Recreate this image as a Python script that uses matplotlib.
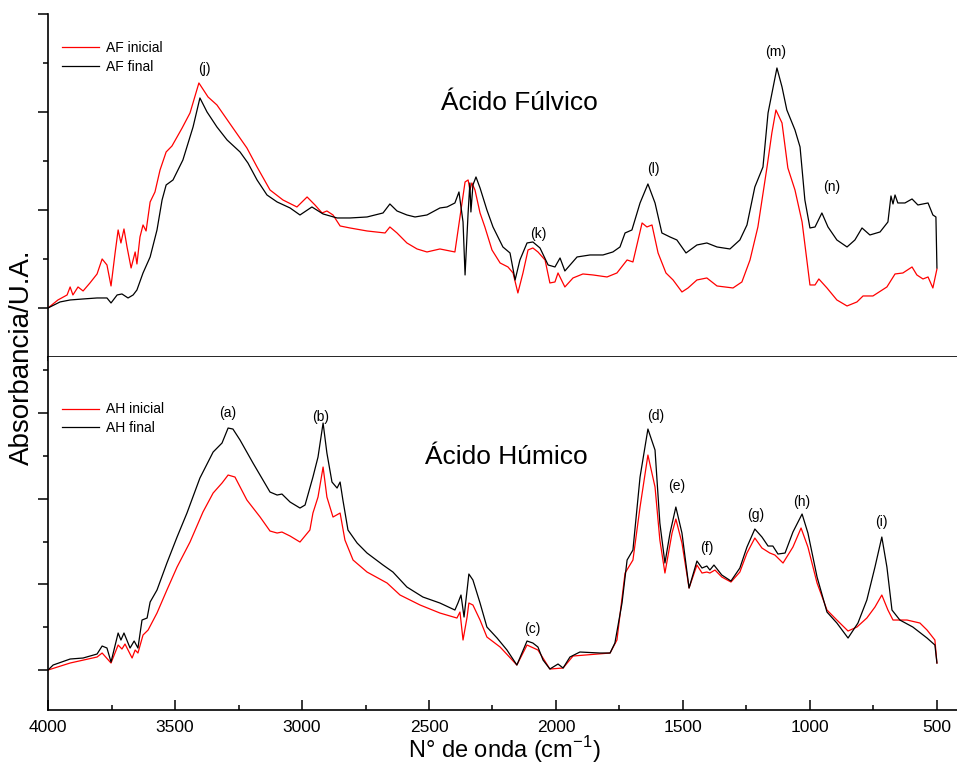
import matplotlib
matplotlib.use("Agg")
import matplotlib.pyplot as plt
from matplotlib.ticker import FixedLocator, MultipleLocator

plt.rcParams['font.family'] = ['Liberation Sans', 'DejaVu Sans']
plt.rcParams['mathtext.fontset'] = 'custom'
plt.rcParams['mathtext.rm'] = 'Liberation Sans'

# Ácido Fúlvico (top panel)
af_ini_wn = [4000, 3961, 3925, 3913, 3902, 3882, 3862, 3835, 3807, 3787, 3768, 3752, 3736, 3724,
             3713, 3701, 3689, 3673, 3657, 3650, 3638, 3626, 3614, 3598, 3579, 3559, 3535, 3512,
             3472, 3441, 3406, 3370, 3335, 3272, 3217, 3177, 3126, 3075, 3020, 2980, 2949, 2921,
             2902, 2878, 2850, 2811, 2744, 2673, 2654, 2626, 2587, 2547, 2508, 2457, 2398, 2378,
             2358, 2346, 2339, 2331, 2319, 2299, 2280, 2252, 2220, 2189, 2169, 2150, 2130, 2110,
             2091, 2071, 2043, 2024, 2004, 1992, 1965, 1933, 1894, 1854, 1799, 1760, 1720, 1697,
             1661, 1642, 1622, 1598, 1567, 1539, 1504, 1480, 1445, 1406, 1366, 1303, 1268, 1236,
             1205, 1169, 1150, 1134, 1110, 1087, 1059, 1031, 1000, 980, 965, 933, 894, 854, 815,
             791, 752, 697, 665, 634, 598, 579, 555, 535, 516, 500]
af_ini = [0.00, 0.08, 0.13, 0.21, 0.13, 0.21, 0.17, 0.25, 0.34, 0.49, 0.43, 0.22, 0.55, 0.78,
          0.65, 0.79, 0.61, 0.40, 0.56, 0.44, 0.71, 0.83, 0.77, 1.06, 1.16, 1.38, 1.56, 1.62,
          1.80, 1.95, 2.25, 2.11, 2.03, 1.80, 1.60, 1.41, 1.18, 1.08, 1.01, 1.11, 1.03, 0.95,
          0.97, 0.93, 0.82, 0.80, 0.77, 0.75, 0.81, 0.75, 0.65, 0.59, 0.56, 0.59, 0.56, 0.91,
          1.26, 1.28, 1.18, 1.25, 1.18, 0.95, 0.81, 0.58, 0.45, 0.41, 0.35, 0.15, 0.35, 0.58,
          0.60, 0.56, 0.48, 0.25, 0.26, 0.35, 0.21, 0.30, 0.34, 0.33, 0.31, 0.35, 0.48, 0.46,
          0.85, 0.81, 0.83, 0.55, 0.35, 0.28, 0.16, 0.20, 0.28, 0.30, 0.22, 0.20, 0.26, 0.48,
          0.81, 1.41, 1.75, 1.98, 1.85, 1.40, 1.18, 0.86, 0.23, 0.23, 0.29, 0.20, 0.08, 0.02, 0.06,
          0.12, 0.12, 0.21, 0.34, 0.35, 0.41, 0.33, 0.29, 0.31, 0.20, 0.39]

af_fin_wn = [4000, 3953, 3913, 3862, 3807, 3768, 3752, 3728, 3709, 3685, 3665, 3650, 3626, 3598,
             3571, 3551, 3535, 3508, 3469, 3429, 3402, 3374, 3335, 3295, 3244, 3213, 3177, 3138,
             3098, 3047, 3008, 2961, 2917, 2862, 2811, 2744, 2681, 2654, 2626, 2587, 2555, 2508,
             2457, 2429, 2398, 2382, 2366, 2358, 2346, 2339, 2335, 2327, 2315, 2299, 2272, 2248,
             2209, 2181, 2161, 2142, 2114, 2091, 2063, 2031, 2004, 1984, 1965, 1917, 1866, 1815,
             1776, 1748, 1728, 1701, 1669, 1638, 1610, 1583, 1551, 1524, 1488, 1445, 1406, 1366,
             1315, 1276, 1248, 1217, 1185, 1165, 1130, 1110, 1091, 1059, 1039, 1020, 1000, 980,
             953, 929, 894, 854, 823, 795, 764, 724, 693, 681, 673, 665, 654, 626, 598, 575, 535,
             516, 504, 500]
af_fin = [0.00, 0.06, 0.08, 0.09, 0.10, 0.10, 0.05, 0.13, 0.14, 0.10, 0.13, 0.18, 0.35, 0.51,
          0.78, 1.08, 1.23, 1.28, 1.48, 1.81, 2.10, 1.96, 1.81, 1.68, 1.56, 1.45, 1.28, 1.13,
          1.06, 1.00, 0.93, 1.01, 0.94, 0.90, 0.90, 0.91, 0.95, 1.04, 0.97, 0.93, 0.91, 0.93,
          1.00, 1.01, 1.05, 1.16, 0.86, 0.33, 0.95, 1.25, 0.96, 1.23, 1.31, 1.20, 0.98, 0.81,
          0.61, 0.55, 0.28, 0.48, 0.65, 0.66, 0.60, 0.43, 0.41, 0.50, 0.37, 0.51, 0.53, 0.53,
          0.56, 0.61, 0.75, 0.78, 1.05, 1.24, 1.05, 0.75, 0.71, 0.68, 0.55, 0.63, 0.65, 0.61,
          0.59, 0.68, 0.83, 1.21, 1.41, 1.95, 2.40, 2.21, 1.98, 1.78, 1.61, 1.08, 0.80, 0.81,
          0.95, 0.81, 0.68, 0.61, 0.68, 0.80, 0.73, 0.76, 0.86, 1.12, 1.04, 1.13, 1.05, 1.05, 1.09, 1.03, 1.05,
          0.93, 0.91, 0.40]

# Ácido Húmico (bottom panel)
ah_ini_wn = [4000, 3913, 3807, 3787, 3752, 3724, 3709, 3697, 3669, 3657, 3646, 3626, 3606, 3571,
             3532, 3492, 3441, 3390, 3350, 3315, 3291, 3264, 3217, 3165, 3126, 3098, 3079, 3047,
             3008, 2969, 2957, 2937, 2917, 2902, 2878, 2850, 2831, 2799, 2744, 2665, 2614, 2535,
             2457, 2390, 2378, 2366, 2350, 2343, 2327, 2299, 2272, 2220, 2154, 2114, 2071, 2024,
             1972, 1933, 1787, 1760, 1728, 1697, 1669, 1638, 1610, 1591, 1571, 1543, 1528, 1504,
             1476, 1445, 1425, 1406, 1394, 1374, 1347, 1311, 1276, 1248, 1217, 1189, 1158, 1138,
             1106, 1067, 1035, 1008, 972, 933, 894, 850, 815, 776, 744, 717, 693, 673, 618, 567,
             539, 508, 500]
ah_ini = [0.00, 0.07, 0.13, 0.17, 0.07, 0.25, 0.21, 0.26, 0.12, 0.20, 0.17, 0.35, 0.40, 0.57,
          0.80, 1.03, 1.28, 1.58, 1.77, 1.87, 1.95, 1.93, 1.70, 1.53, 1.39, 1.37, 1.38, 1.34,
          1.28, 1.40, 1.57, 1.73, 2.03, 1.73, 1.53, 1.57, 1.30, 1.10, 0.98, 0.87, 0.75, 0.65,
          0.57, 0.52, 0.58, 0.30, 0.53, 0.67, 0.65, 0.50, 0.33, 0.23, 0.05, 0.25, 0.20, 0.01,
          0.02, 0.14, 0.17, 0.30, 0.97, 1.10, 1.63, 2.15, 1.83, 1.30, 0.97, 1.37, 1.51, 1.27,
          0.82, 1.05, 0.97, 0.98, 0.97, 1.00, 0.93, 0.88, 0.98, 1.17, 1.32, 1.22, 1.17, 1.15,
          1.07, 1.23, 1.42, 1.23, 0.87, 0.60, 0.50, 0.39, 0.43, 0.52, 0.63, 0.75, 0.60, 0.50, 0.50, 0.47,
          0.40, 0.30, 0.07]

ah_fin_wn = [4000, 3980, 3913, 3862, 3807, 3787, 3768, 3752, 3724, 3713, 3701, 3677, 3661, 3646,
             3630, 3610, 3598, 3571, 3532, 3492, 3453, 3402, 3350, 3315, 3291, 3272, 3244, 3193,
             3126, 3098, 3079, 3047, 3008, 2988, 2957, 2937, 2917, 2902, 2882, 2862, 2850, 2839,
             2819, 2783, 2744, 2681, 2642, 2587, 2524, 2457, 2398, 2386, 2374, 2362, 2350, 2343,
             2327, 2299, 2272, 2232, 2193, 2154, 2134, 2114, 2091, 2071, 2051, 2024, 1992, 1972,
             1945, 1906, 1827, 1787, 1768, 1740, 1720, 1697, 1669, 1638, 1610, 1591, 1571, 1551,
             1528, 1504, 1476, 1445, 1425, 1406, 1394, 1378, 1347, 1311, 1276, 1248, 1217, 1189,
             1165, 1146, 1126, 1098, 1067, 1031, 1008, 972, 933, 894, 850, 811, 776, 744, 717, 697,
             677, 646, 595, 539, 508, 500]
ah_fin = [0.00, 0.05, 0.11, 0.12, 0.16, 0.24, 0.22, 0.08, 0.37, 0.30, 0.37, 0.22, 0.29, 0.22,
          0.50, 0.52, 0.68, 0.80, 1.07, 1.33, 1.57, 1.92, 2.18, 2.27, 2.42, 2.41, 2.30, 2.07,
          1.78, 1.75, 1.76, 1.68, 1.62, 1.65, 1.93, 2.13, 2.47, 2.17, 1.88, 1.82, 1.88, 1.70,
          1.40, 1.27, 1.17, 1.05, 0.98, 0.83, 0.73, 0.67, 0.60, 0.67, 0.75, 0.53, 0.80, 0.96,
          0.90, 0.67, 0.43, 0.32, 0.20, 0.05, 0.17, 0.29, 0.27, 0.23, 0.10, 0.01, 0.06, 0.02,
          0.13, 0.18, 0.17, 0.17, 0.27, 0.67, 1.10, 1.20, 1.93, 2.41, 2.20, 1.47, 1.07, 1.37,
          1.63, 1.37, 0.82, 1.09, 1.02, 1.04, 1.00, 1.05, 0.95, 0.89, 1.02, 1.23, 1.41, 1.33,
          1.24, 1.24, 1.16, 1.17, 1.38, 1.56, 1.37, 0.93, 0.58, 0.47, 0.32, 0.47, 0.70, 1.03, 1.33, 1.03,
          0.60, 0.50, 0.43, 0.32, 0.25, 0.07]

# band labels: (text, wavenumber, height)
af_bands = [("(j)", 3386, 2.39), ("(k)", 2071, 0.74), ("(l)", 1618, 1.39),
            ("(m)", 1134, 2.56), ("(n)", 913, 1.21)]
ah_bands = [("(a)", 3291, 2.57), ("(b)", 2925, 2.53), ("(c)", 2095, 0.41),
            ("(d)", 1606, 2.54), ("(e)", 1524, 1.84), ("(f)", 1406, 1.22),
            ("(g)", 1213, 1.55), ("(h)", 1031, 1.68), ("(i)", 720, 1.48)]

fig = plt.figure(figsize=(9.57, 7.68), dpi=100)
ax1 = fig.add_axes([0.0502, 0.5352, 0.9498, 0.4466])
ax2 = fig.add_axes([0.0502, 0.0755, 0.9498, 0.4596])

ax1.plot(af_ini_wn, af_ini, color='#ff0000', lw=0.9, label='AF inicial')
ax1.plot(af_fin_wn, af_fin, color='black', lw=0.9, label='AF final')
ax2.plot(ah_ini_wn, ah_ini, color='#ff0000', lw=0.9, label='AH inicial')
ax2.plot(ah_fin_wn, ah_fin, color='black', lw=0.9, label='AH final')

ax1.set_ylim(-0.49, 2.94)
ax2.set_ylim(-0.40, 3.13)
ax1.yaxis.set_major_locator(FixedLocator([0, 0.98, 1.96, 2.935]))
ax1.yaxis.set_minor_locator(FixedLocator([0.49, 1.47, 2.45]))
ax2.yaxis.set_major_locator(FixedLocator([0, 0.86, 1.71, 2.57]))
ax2.yaxis.set_minor_locator(FixedLocator([0.43, 1.28, 2.14, 3.00]))

for ax in (ax1, ax2):
    ax.set_xlim(4000, 421)
    ax.xaxis.set_major_locator(MultipleLocator(500))
    ax.xaxis.set_minor_locator(MultipleLocator(250))
    ax.spines['top'].set_visible(False)
    ax.spines['right'].set_visible(False)
    ax.spines['left'].set_linewidth(1.2)
    ax.spines['bottom'].set_linewidth(1.2)
    ax.tick_params(axis='y', which='major', direction='out', length=7, width=1.1, labelleft=False)
    ax.tick_params(axis='y', which='minor', direction='out', length=3.5, width=1.1)

ax1.tick_params(axis='x', which='major', direction='out', length=3, width=1.1, labelbottom=False)
ax1.tick_params(axis='x', which='minor', length=0)
ax2.tick_params(axis='x', which='major', direction='in', length=7, width=1.1, labelsize=12.5, pad=7)
ax2.tick_params(axis='x', which='minor', direction='in', length=3.5, width=1.1)

for text, wn, h in af_bands:
    ax1.text(wn, h, text, ha='center', va='center', fontsize=10)
for text, wn, h in ah_bands:
    ax2.text(wn, h, text, ha='center', va='center', fontsize=10)

ax1.text(0.518, 0.74, 'Ácido Fúlvico', transform=ax1.transAxes, ha='center', va='center', fontsize=19)
ax2.text(0.504, 0.717, 'Ácido Húmico', transform=ax2.transAxes, ha='center', va='center', fontsize=19)

ax1.legend(loc='center left', bbox_to_anchor=(0.015, 0.873), frameon=False, fontsize=10,
           handlelength=2.7, handletextpad=0.5, labelspacing=0.4, borderpad=0, borderaxespad=0)
ax2.legend(loc='center left', bbox_to_anchor=(0.015, 0.826), frameon=False, fontsize=10,
           handlelength=2.7, handletextpad=0.5, labelspacing=0.3, borderpad=0, borderaxespad=0)

fig.text(0.023, 0.535, 'Absorbancia/U.A.', rotation=90, ha='center', va='center', fontsize=20)
fig.text(0.527, 0.004, r'N° de onda (cm$^{-1}$)', ha='center', va='bottom', fontsize=17)

fig.savefig('out.png', dpi=100)
